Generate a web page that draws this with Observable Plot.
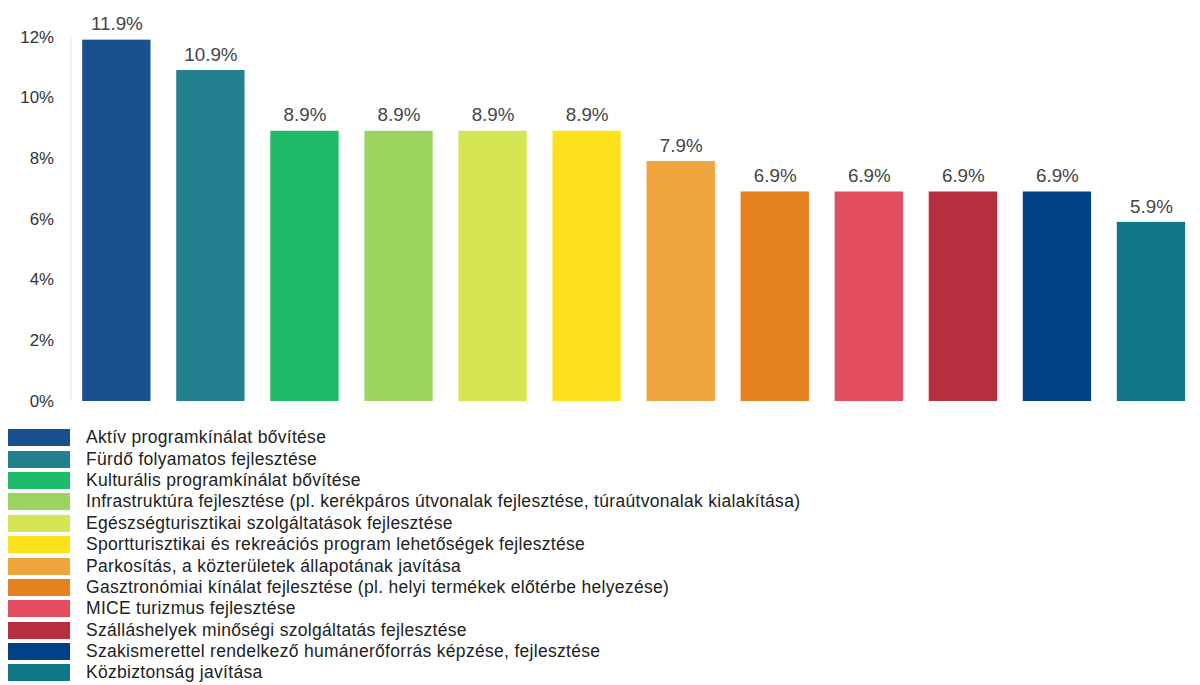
<!DOCTYPE html>
<html>
<head>
<meta charset="utf-8">
<script src="https://cdn.jsdelivr.net/npm/d3@7"></script>
<script src="https://cdn.jsdelivr.net/npm/@observablehq/plot@0.6"></script>
<style>
  html, body { margin: 0; padding: 0; background: #fff; overflow: hidden; }
  #wrap { width: 1200px; height: 685px; overflow: hidden; position: relative; }
  #chart svg { display: block; }
  #legend { position: absolute; left: 8px; top: 427px; font-family: "Liberation Sans", Arial, sans-serif; font-size: 17.5px; letter-spacing: 0.3px; color: #222; }
  .item { display: flex; align-items: center; height: 21.4px; white-space: nowrap; }
  .sw { width: 62px; height: 17px; margin-right: 16px; flex: none; }
</style>
</head>
<body>
<div id="wrap">
  <div id="chart"></div>
  <div id="legend"></div>
</div>
<script>
const categories = [
  "Aktív programkínálat bővítése",
  "Fürdő folyamatos fejlesztése",
  "Kulturális programkínálat bővítése",
  "Infrastruktúra fejlesztése (pl. kerékpáros útvonalak fejlesztése, túraútvonalak kialakítása)",
  "Egészségturisztikai szolgáltatások fejlesztése",
  "Sportturisztikai és rekreációs program lehetőségek fejlesztése",
  "Parkosítás, a közterületek állapotának javítása",
  "Gasztronómiai kínálat fejlesztése (pl. helyi termékek előtérbe helyezése)",
  "MICE turizmus fejlesztése",
  "Szálláshelyek minőségi szolgáltatás fejlesztése",
  "Szakismerettel rendelkező humánerőforrás képzése, fejlesztése",
  "Közbiztonság javítása"
];
const values = [11.9, 10.9, 8.9, 8.9, 8.9, 8.9, 7.9, 6.9, 6.9, 6.9, 6.9, 5.9];
const colors = ["#1a4f8f", "#23808f", "#1fba6a", "#9bd55f", "#d5e452", "#fde11c",
                "#f0a43d", "#e5821f", "#e24d60", "#b72f3e", "#013f86", "#107585"];
const yTicks = [0, 2, 4, 6, 8, 10, 12];

const data = categories.map((c, i) => ({cat: c, value: values[i]}));

const chart = Plot.plot({
  width: 1212,
  height: 420,
  marginLeft: 70,
  marginRight: 1,
  marginTop: 37,
  marginBottom: 15,
  style: {fontFamily: "'Liberation Sans', Arial, sans-serif", fontSize: "17px", color: "#333", background: "#fff"},
  x: {domain: categories, paddingInner: 0.27, paddingOuter: 0.135, axis: null},
  y: {domain: [0, 12], ticks: yTicks, tickFormat: d => d + "%", label: null, axis: null},
  color: {type: "ordinal", domain: categories, range: colors},
  marks: [
    Plot.gridY(yTicks, {stroke: "#dedede", strokeOpacity: 1, x1: 57, x2: 1212}),
    Plot.ruleX([categories[0]], {stroke: "#e6e6e6", dx: -46.5}),
    Plot.axisY({ticks: yTicks, tickFormat: d => d + "%", tickSize: 0, tickPadding: 16, fontSize: 17, fill: "#333", label: null}),
    Plot.ruleY([0], {stroke: "#c4c4c4", x1: 57, x2: 1212}),
    Plot.barY(data, {x: "cat", y: "value", fill: "cat"}),
    Plot.text(data, {x: "cat", y: "value", text: d => d.value.toFixed(1) + "%", dy: -16, fontSize: 19, fill: "#454545"})
  ]
});
document.getElementById("chart").appendChild(chart);

const legend = document.getElementById("legend");
categories.forEach((c, i) => {
  const row = document.createElement("div");
  row.className = "item";
  const sw = document.createElement("div");
  sw.className = "sw";
  sw.style.background = colors[i];
  const t = document.createElement("span");
  t.textContent = c;
  row.appendChild(sw);
  row.appendChild(t);
  legend.appendChild(row);
});
</script>
</body>
</html>
